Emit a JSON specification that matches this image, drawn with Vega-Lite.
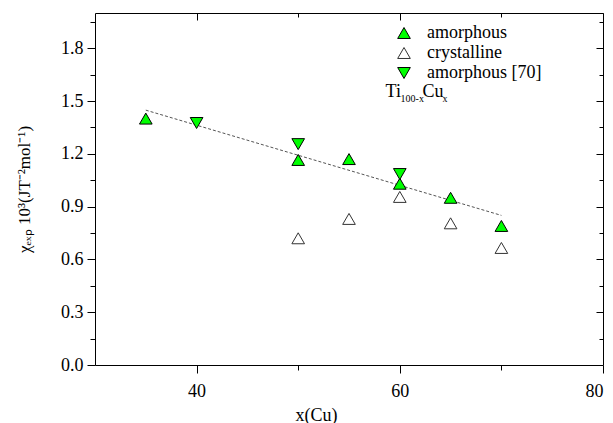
{
  "$schema": "https://vega.github.io/schema/vega-lite/v6.json",
  "width": 508,
  "height": 352,
  "autosize": {"type": "none"},
  "padding": {"left": 95, "top": 13, "right": 10, "bottom": 58},
  "background": "white",
  "config": {
    "font": "Liberation Serif",
    "view": {"stroke": "#000", "strokeWidth": 1},
    "style": {
      "guide-label": {"font": "Liberation Serif", "fill": "#000"},
      "guide-title": {"font": "Liberation Serif", "fill": "#000"}
    },
    "axis": {
      "domainColor": "#000", "tickColor": "#000", "labelColor": "#000", "titleColor": "#000",
      "labelFont": "Liberation Serif", "titleFont": "Liberation Serif",
      "labelFontSize": 18, "titleFontSize": 18, "titleFontWeight": "normal", "grid": false
    },
    "legend": {"labelFont": "Liberation Serif", "labelFontSize": 18, "labelColor": "#000"},
    "text": {"font": "Liberation Serif"}
  },
  "datasets": {
    "points": [
      {"x": 35, "chi": 1.40, "series": "amorphous"},
      {"x": 50, "chi": 1.165, "series": "amorphous"},
      {"x": 55, "chi": 1.17, "series": "amorphous"},
      {"x": 60, "chi": 1.03, "series": "amorphous"},
      {"x": 65, "chi": 0.95, "series": "amorphous"},
      {"x": 70, "chi": 0.79, "series": "amorphous"},
      {"x": 50, "chi": 0.72, "series": "crystalline"},
      {"x": 55, "chi": 0.83, "series": "crystalline"},
      {"x": 60, "chi": 0.955, "series": "crystalline"},
      {"x": 65, "chi": 0.805, "series": "crystalline"},
      {"x": 70, "chi": 0.665, "series": "crystalline"},
      {"x": 40, "chi": 1.375, "series": "amorphous [70]"},
      {"x": 50, "chi": 1.255, "series": "amorphous [70]"},
      {"x": 60, "chi": 1.085, "series": "amorphous [70]"}
    ],
    "fit": [{"x": 35, "chi": 1.448}, {"x": 70, "chi": 0.85}],
    "label": [{"x": 58.6, "chi": 1.523}]
  },
  "layer": [
    {
      "data": {"name": "fit"},
      "mark": {"type": "line", "color": "#555", "strokeWidth": 1, "strokeDash": [3, 2]},
      "encoding": {
        "x": {"field": "x", "type": "quantitative", "scale": {"domain": [30, 80], "nice": false, "zero": false},
          "axis": {"orient": "top", "values": [40, 50, 60, 70, 80], "labels": false, "title": null, "domain": false,
            "tickSize": {"condition": {"test": "datum.value % 20 === 0", "value": -7}, "value": -4}}},
        "y": {"field": "chi", "type": "quantitative", "scale": {"domain": [0, 2], "nice": false},
          "axis": {"orient": "right", "values": [0.15, 0.3, 0.45, 0.6, 0.75, 0.9, 1.05, 1.2, 1.35, 1.5, 1.65, 1.8, 1.95], "labels": false, "title": null, "domain": false,
            "tickSize": {"condition": {"test": "abs(datum.value/0.3 - round(datum.value/0.3)) < 0.01", "value": -7}, "value": -4}}}
      }
    },
    {
      "data": {"name": "points"},
      "mark": {"type": "point", "filled": false, "size": 160, "strokeWidth": 1, "opacity": 1},
      "encoding": {
        "x": {"field": "x", "type": "quantitative",
          "axis": {"orient": "bottom", "values": [40, 50, 60, 70, 80], "title": "x(Cu)", "domain": false,
            "labelFont": "Liberation Serif", "titleFont": "Liberation Serif",
            "labelExpr": "datum.value % 20 === 0 ? datum.label : ''", "labelPadding": 9,
            "titleX": 221, "titleY": 41, "titleAlign": "center", "titleBaseline": "top",
            "tickSize": {"condition": {"test": "datum.value % 20 === 0", "value": 8}, "value": 5}}},
        "y": {"field": "chi", "type": "quantitative",
          "axis": {"orient": "left", "values": [0, 0.15, 0.3, 0.45, 0.6, 0.75, 0.9, 1.05, 1.2, 1.35, 1.5, 1.65, 1.8, 1.95],
            "title": "χₑₓₚ 10³(JT⁻²mol⁻¹)", "domain": false, "labelPadding": 4, "titlePadding": 27, "titleFontSize": 17,
            "labelFont": "Liberation Serif", "titleFont": "Liberation Serif",
            "labelExpr": "abs(datum.value/0.3 - round(datum.value/0.3)) < 0.01 ? format(datum.value, '.1f') : ''",
            "tickSize": {"condition": {"test": "abs(datum.value/0.3 - round(datum.value/0.3)) < 0.01", "value": 8}, "value": 5}}},
        "shape": {"field": "series", "type": "nominal",
          "scale": {"domain": ["amorphous", "crystalline", "amorphous [70]"], "range": ["triangle-up", "triangle-up", "triangle-down"]},
          "legend": {"title": null, "orient": "none", "legendX": 300, "legendY": 11, "padding": 0, "labelOffset": 14, "rowPadding": 2, "symbolSize": 160, "symbolStrokeWidth": 1, "labelFont": "Liberation Serif", "labelFontSize": 18}},
        "fill": {"field": "series", "type": "nominal",
          "scale": {"domain": ["amorphous", "crystalline", "amorphous [70]"], "range": ["#00ff00", "#ffffff", "#00ff00"]}},
        "stroke": {"field": "series", "type": "nominal",
          "scale": {"domain": ["amorphous", "crystalline", "amorphous [70]"], "range": ["#000000", "#333333", "#000000"]}}
      }
    },
    {
      "data": {"name": "label"},
      "mark": {"type": "text", "align": "left", "baseline": "alphabetic", "fontSize": 18, "color": "#000", "font": "Liberation Serif"},
      "encoding": {"x": {"field": "x", "type": "quantitative", "axis": null}, "y": {"field": "chi", "type": "quantitative", "axis": null}, "text": {"value": "Ti"}}
    },
    {
      "data": {"name": "label"},
      "mark": {"type": "text", "align": "left", "baseline": "alphabetic", "fontSize": 10, "dx": 15, "dy": 5, "color": "#000", "font": "Liberation Serif"},
      "encoding": {"x": {"field": "x", "type": "quantitative", "axis": null}, "y": {"field": "chi", "type": "quantitative", "axis": null}, "text": {"value": "100-x"}}
    },
    {
      "data": {"name": "label"},
      "mark": {"type": "text", "align": "left", "baseline": "alphabetic", "fontSize": 18, "dx": 37, "color": "#000", "font": "Liberation Serif"},
      "encoding": {"x": {"field": "x", "type": "quantitative", "axis": null}, "y": {"field": "chi", "type": "quantitative", "axis": null}, "text": {"value": "Cu"}}
    },
    {
      "data": {"name": "label"},
      "mark": {"type": "text", "align": "left", "baseline": "alphabetic", "fontSize": 10, "dx": 57, "dy": 5, "color": "#000", "font": "Liberation Serif"},
      "encoding": {"x": {"field": "x", "type": "quantitative", "axis": null}, "y": {"field": "chi", "type": "quantitative", "axis": null}, "text": {"value": "x"}}
    }
  ],
  "resolve": {"axis": {"x": "independent", "y": "independent"}}
}
